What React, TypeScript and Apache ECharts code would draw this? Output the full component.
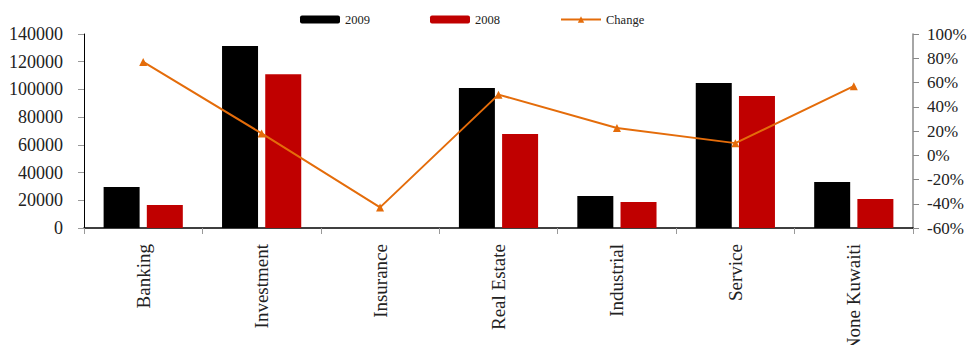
import React, { useEffect, useRef } from "react";
import * as echarts from "echarts";

const categories = ["Banking", "Investment", "Insurance", "Real Estate", "Industrial", "Service", "None Kuwaiti"];
const values2009 = [29600, 131400, 0, 101000, 23100, 104700, 33200];
const values2008 = [16600, 111000, 0, 67900, 18800, 95300, 21000];
const changePct = [77, 18, -43, 50, 22.5, 10, 57];

const FONT = "Liberation Serif";

export default function App() {
  const ref = useRef<HTMLDivElement>(null);
  useEffect(() => {
    const chart = echarts.init(ref.current!, null, { renderer: "svg" });
    const legendText = { fontFamily: FONT, fontSize: 12.5, color: "#222" };
    const lg = { top: 5, padding: 0, itemWidth: 40, itemHeight: 8, itemGap: 0, textStyle: legendText };
    const lbl = { fontFamily: FONT, fontStyle: "normal", fontWeight: "normal", color: "#222" };
    chart.setOption({
      animation: false,
      backgroundColor: "#fff",
      textStyle: { fontFamily: FONT },
      legend: [
        { ...lg, left: 292, data: ["2009"] },
        { ...lg, left: 422, data: ["2008"] },
        { ...lg, left: 552, data: ["Change"] },
      ],
      grid: { left: 76, right: 55, top: 26, bottom: 125, containLabel: false, outerBoundsMode: "none" },
      xAxis: {
        type: "category",
        data: categories,
        axisLine: { lineStyle: { color: "#000", width: 1.5 } },
        axisTick: { show: true, length: 6, lineStyle: { color: "#999" } },
        axisLabel: { ...lbl, rotate: 90, fontSize: 19, margin: 16 },
      },
      yAxis: [
        {
          type: "value",
          min: 0,
          max: 140000,
          interval: 20000,
          axisLine: { show: true, lineStyle: { color: "#000", width: 1 } },
          axisTick: { show: true, length: 6, lineStyle: { color: "#999" } },
          splitLine: { show: false },
          axisLabel: {
            ...lbl,
            fontSize: 18,
            margin: 21,
            formatter: (v: number) => String(v),
          },
        },
        {
          type: "value",
          min: -60,
          max: 100,
          interval: 20,
          position: "right",
          axisLine: { show: true, lineStyle: { color: "#888", width: 1.5 } },
          axisTick: { show: true, length: 6, lineStyle: { color: "#888" } },
          splitLine: { show: false },
          axisLabel: { ...lbl, fontSize: 17, margin: 14, formatter: "{value}%" },
        },
      ],
      series: [
        {
          name: "2009",
          type: "bar",
          data: values2009,
          barWidth: 36,
          barGap: "20%",
          itemStyle: { color: "#000" },
        },
        {
          name: "2008",
          type: "bar",
          data: values2008,
          barWidth: 36,
          itemStyle: { color: "#C00000" },
        },
        {
          name: "Change",
          type: "line",
          yAxisIndex: 1,
          data: changePct,
          symbol: "triangle",
          symbolSize: 8,
          lineStyle: { color: "#E46C0A", width: 2 },
          itemStyle: { color: "#E46C0A" },
        },
      ],
    });
    return () => chart.dispose();
  }, []);
  return <div ref={ref} style={{ width: 960, height: 345, marginBottom: -8 }} />;
}
